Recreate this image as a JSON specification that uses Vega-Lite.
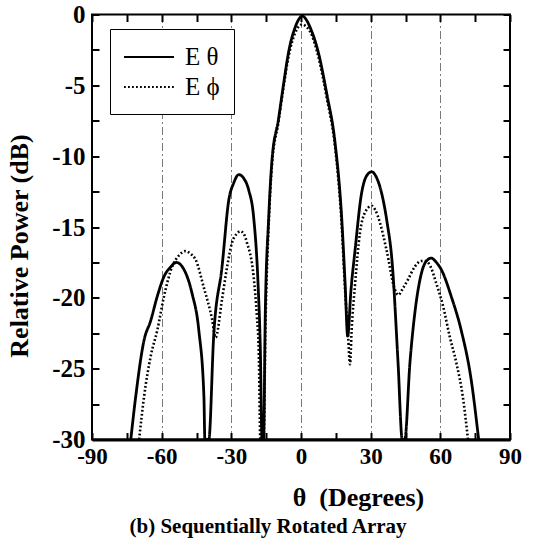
{
  "$schema": "https://vega.github.io/schema/vega-lite/v6.json",
  "width": 418,
  "height": 425,
  "autosize": "none",
  "padding": {"left": 92, "top": 14.5, "right": 26, "bottom": 99.5},
  "background": "white",
  "config": {"view": {"stroke": "black", "strokeWidth": 2}, "font": "Liberation Serif"},
  "title": {"text": "(b) Sequentially Rotated Array", "orient": "bottom", "anchor": "middle", "fontSize": 21, "fontWeight": "bold", "font": "Liberation Serif", "color": "black", "dx": -33, "offset": 5},
  "data": {"values": [
    {"a": -73.3, "p": -30, "s": "E θ"}, {"a": -71.2, "p": -27.0, "s": "E θ"}, {"a": -67.6, "p": -23.0, "s": "E θ"}, {"a": -64.7, "p": -21.6, "s": "E θ"},
    {"a": -61.9, "p": -19.9, "s": "E θ"}, {"a": -59.0, "p": -18.5, "s": "E θ"}, {"a": -56.0, "p": -17.8, "s": "E θ"}, {"a": -53.7, "p": -17.5, "s": "E θ"},
    {"a": -50.4, "p": -18.0, "s": "E θ"}, {"a": -46.9, "p": -19.7, "s": "E θ"}, {"a": -44.0, "p": -22.3, "s": "E θ"}, {"a": -41.8, "p": -27.0, "s": "E θ"},
    {"a": -41.4, "p": -30, "s": "E θ"}, {"a": -39.7, "p": -30, "s": "E θ"}, {"a": -37.6, "p": -22.7, "s": "E θ"}, {"a": -34.0, "p": -17.8, "s": "E θ"},
    {"a": -31.1, "p": -13.1, "s": "E θ"}, {"a": -29.0, "p": -11.9, "s": "E θ"}, {"a": -26.8, "p": -11.3, "s": "E θ"}, {"a": -24.5, "p": -11.6, "s": "E θ"},
    {"a": -22.5, "p": -12.4, "s": "E θ"}, {"a": -20.4, "p": -14.3, "s": "E θ"}, {"a": -18.5, "p": -19.0, "s": "E θ"}, {"a": -17.5, "p": -23.7, "s": "E θ"},
    {"a": -16.8, "p": -30, "s": "E θ"}, {"a": -16.1, "p": -30, "s": "E θ"}, {"a": -15.4, "p": -21.3, "s": "E θ"}, {"a": -13.9, "p": -14.3, "s": "E θ"},
    {"a": -12.5, "p": -10.3, "s": "E θ"}, {"a": -9.7, "p": -7.4, "s": "E θ"}, {"a": -7.5, "p": -4.9, "s": "E θ"}, {"a": -5.4, "p": -2.7, "s": "E θ"},
    {"a": -2.5, "p": -0.9, "s": "E θ"}, {"a": -1.0, "p": -0.35, "s": "E θ"}, {"a": 0.6, "p": -0.1, "s": "E θ"}, {"a": 2.2, "p": -0.35, "s": "E θ"},
    {"a": 3.9, "p": -0.9, "s": "E θ"}, {"a": 7.5, "p": -2.7, "s": "E θ"},
    {"a": 11.1, "p": -5.6, "s": "E θ"}, {"a": 14.7, "p": -9.1, "s": "E θ"}, {"a": 17.5, "p": -14.3, "s": "E θ"}, {"a": 19.0, "p": -19.0, "s": "E θ"},
    {"a": 20.1, "p": -22.7, "s": "E θ"}, {"a": 21.5, "p": -19.5, "s": "E θ"}, {"a": 23.3, "p": -16.6, "s": "E θ"}, {"a": 26.1, "p": -12.6, "s": "E θ"},
    {"a": 28.2, "p": -11.4, "s": "E θ"}, {"a": 30.4, "p": -11.1, "s": "E θ"}, {"a": 32.5, "p": -11.5, "s": "E θ"}, {"a": 34.7, "p": -12.6, "s": "E θ"},
    {"a": 37.0, "p": -14.6, "s": "E θ"}, {"a": 39.3, "p": -17.6, "s": "E θ"}, {"a": 41.8, "p": -24.6, "s": "E θ"}, {"a": 43.6, "p": -30, "s": "E θ"},
    {"a": 44.7, "p": -30, "s": "E θ"}, {"a": 46.9, "p": -24.6, "s": "E θ"}, {"a": 49.0, "p": -21.1, "s": "E θ"}, {"a": 51.8, "p": -18.3, "s": "E θ"},
    {"a": 54.0, "p": -17.4, "s": "E θ"}, {"a": 56.1, "p": -17.2, "s": "E θ"}, {"a": 58.3, "p": -17.5, "s": "E θ"}, {"a": 60.4, "p": -18.0, "s": "E θ"},
    {"a": 64.7, "p": -19.9, "s": "E θ"}, {"a": 69.0, "p": -22.3, "s": "E θ"}, {"a": 73.3, "p": -25.8, "s": "E θ"}, {"a": 76.5, "p": -30, "s": "E θ"},

    {"a": -69.7, "p": -30, "s": "E ϕ"}, {"a": -67.6, "p": -27.0, "s": "E ϕ"}, {"a": -64.7, "p": -24.1, "s": "E ϕ"}, {"a": -61.9, "p": -22.3, "s": "E ϕ"},
    {"a": -59.0, "p": -19.9, "s": "E ϕ"}, {"a": -55.5, "p": -17.8, "s": "E ϕ"}, {"a": -52.5, "p": -17.0, "s": "E ϕ"}, {"a": -49.7, "p": -16.7, "s": "E ϕ"},
    {"a": -47.5, "p": -16.9, "s": "E ϕ"}, {"a": -45.4, "p": -17.3, "s": "E ϕ"}, {"a": -41.8, "p": -19.3, "s": "E ϕ"}, {"a": -38.3, "p": -21.5, "s": "E ϕ"},
    {"a": -36.8, "p": -22.8, "s": "E ϕ"}, {"a": -34.0, "p": -20.1, "s": "E ϕ"}, {"a": -31.8, "p": -17.8, "s": "E ϕ"}, {"a": -29.7, "p": -16.1, "s": "E ϕ"},
    {"a": -27.8, "p": -15.5, "s": "E ϕ"}, {"a": -26.1, "p": -15.3, "s": "E ϕ"}, {"a": -24.6, "p": -15.5, "s": "E ϕ"}, {"a": -23.3, "p": -16.1, "s": "E ϕ"},
    {"a": -20.4, "p": -18.5, "s": "E ϕ"}, {"a": -19.0, "p": -21.3, "s": "E ϕ"}, {"a": -18.2, "p": -23.7, "s": "E ϕ"}, {"a": -17.5, "p": -30, "s": "E ϕ"},
    {"a": -16.1, "p": -30, "s": "E ϕ"}, {"a": -15.3, "p": -22.0, "s": "E ϕ"}, {"a": -13.9, "p": -14.8, "s": "E ϕ"}, {"a": -12.5, "p": -10.6, "s": "E ϕ"},
    {"a": -9.7, "p": -7.6, "s": "E ϕ"}, {"a": -7.5, "p": -5.1, "s": "E ϕ"}, {"a": -5.4, "p": -3.0, "s": "E ϕ"}, {"a": -2.5, "p": -1.3, "s": "E ϕ"},
    {"a": -1.0, "p": -0.85, "s": "E ϕ"}, {"a": 0.6, "p": -0.7, "s": "E ϕ"}, {"a": 2.2, "p": -0.85, "s": "E ϕ"},
    {"a": 3.9, "p": -1.2, "s": "E ϕ"}, {"a": 7.5, "p": -3.0, "s": "E ϕ"}, {"a": 11.1, "p": -5.9, "s": "E ϕ"},
    {"a": 14.7, "p": -9.4, "s": "E ϕ"}, {"a": 17.5, "p": -14.8, "s": "E ϕ"}, {"a": 19.0, "p": -19.5, "s": "E ϕ"}, {"a": 20.3, "p": -22.8, "s": "E ϕ"},
    {"a": 21.1, "p": -24.7, "s": "E ϕ"}, {"a": 21.8, "p": -22.3, "s": "E ϕ"}, {"a": 23.3, "p": -19.0, "s": "E ϕ"}, {"a": 25.4, "p": -15.4, "s": "E ϕ"},
    {"a": 27.5, "p": -14.0, "s": "E ϕ"}, {"a": 30.4, "p": -13.5, "s": "E ϕ"}, {"a": 32.0, "p": -13.8, "s": "E ϕ"}, {"a": 34.0, "p": -14.7, "s": "E ϕ"},
    {"a": 36.8, "p": -16.6, "s": "E ϕ"}, {"a": 40.4, "p": -19.4, "s": "E ϕ"}, {"a": 41.8, "p": -19.8, "s": "E ϕ"}, {"a": 44.0, "p": -19.3, "s": "E ϕ"},
    {"a": 46.1, "p": -18.7, "s": "E ϕ"}, {"a": 49.0, "p": -17.8, "s": "E ϕ"}, {"a": 51.8, "p": -17.4, "s": "E ϕ"}, {"a": 53.5, "p": -17.4, "s": "E ϕ"},
    {"a": 55.5, "p": -17.7, "s": "E ϕ"}, {"a": 58.3, "p": -19.0, "s": "E ϕ"}, {"a": 61.2, "p": -20.6, "s": "E ϕ"}, {"a": 64.0, "p": -22.7, "s": "E ϕ"},
    {"a": 66.9, "p": -24.6, "s": "E ϕ"}, {"a": 69.7, "p": -27.0, "s": "E ϕ"}, {"a": 71.9, "p": -30, "s": "E ϕ"}
  ]},
  "resolve": {"axis": {"x": "independent", "y": "independent"}},
  "layer": [
    {
      "transform": [{"filter": "datum.s === 'E θ'"}],
      "mark": {"type": "line", "color": "black", "strokeWidth": 2.8, "clip": true, "interpolate": "monotone"},
      "encoding": {
        "x": {"field": "a", "type": "quantitative", "scale": {"domain": [-90, 90], "nice": false},
          "axis": {"orient": "bottom", "values": [-90, -75, -60, -45, -30, -15, 0, 15, 30, 45, 60, 75, 90],
            "labelExpr": "datum.value % 30 === 0 ? '' + datum.value : ''",
            "labelFont": "Liberation Serif", "labelFontWeight": "bold", "labelFontSize": 23, "labelColor": "black",
            "labelPadding": 13, "labelFlush": false, "labelOverlap": false,
            "tickSize": -7, "tickColor": "black", "tickWidth": 2,
            "domain": true, "domainColor": "black", "domainWidth": 3,
            "grid": true, "gridColor": "#444", "gridWidth": 0.8, "gridDash": [8, 3, 2, 3],
            "gridOpacity": {"condition": {"test": "datum.value % 30 === 0 && abs(datum.value) < 90", "value": 0.9}, "value": 0},
            "title": "θ\u00a0\u00a0(Degrees)", "titleFont": "Liberation Serif", "titleFontWeight": "bold", "titleFontSize": 26, "titleColor": "black",
            "titleX": 266, "titleY": 58, "titleBaseline": "middle", "titleAlign": "center"}},
        "y": {"field": "p", "type": "quantitative", "scale": {"domain": [-30, 0], "nice": false},
          "axis": {"orient": "left", "values": [-30, -27.5, -25, -22.5, -20, -17.5, -15, -12.5, -10, -7.5, -5, -2.5, 0],
            "labelExpr": "datum.value % 5 === 0 ? '' + datum.value : ''",
            "labelFont": "Liberation Serif", "labelFontWeight": "bold", "labelFontSize": 25, "labelColor": "black",
            "labelPadding": 14, "labelFlush": false, "labelOverlap": false,
            "tickSize": -7, "tickColor": "black", "tickWidth": 2, "domain": false, "grid": false,
            "title": "Relative Power (dB)", "titleFont": "Liberation Serif", "titleFontWeight": "bold", "titleFontSize": 26, "titleColor": "black",
            "titleX": -73, "titleY": 231, "titleBaseline": "middle", "titleAlign": "center", "titleAngle": -90}},
        "strokeDash": {"field": "s", "type": "nominal",
          "scale": {"domain": ["E θ", "E ϕ"], "range": [[1, 0], [1.8, 2.2]]},
          "legend": {"orient": "none", "legendX": 18, "legendY": 14.5, "title": null,
            "strokeColor": "black", "fillColor": "white", "padding": 14,
            "symbolType": "M-2,0H2", "symbolSize": 625, "symbolOffset": 11, "symbolStrokeWidth": 2.2, "symbolStrokeColor": "black",
            "labelFont": "Liberation Serif", "labelFontSize": 25, "labelColor": "black", "labelOffset": 22, "labelLimit": 300,
            "rowPadding": 3, "labelExpr": "datum.label + '\u00a0\u00a0\u00a0'"}}
      }
    },
    {
      "transform": [{"filter": "datum.s === 'E ϕ'"}],
      "mark": {"type": "line", "color": "black", "strokeWidth": 2.6, "clip": true, "interpolate": "monotone"},
      "encoding": {
        "x": {"field": "a", "type": "quantitative",
          "axis": {"orient": "top", "values": [-90, -75, -60, -45, -30, -15, 0, 15, 30, 45, 60, 75, 90],
            "labels": false, "tickSize": -7, "tickColor": "black", "tickWidth": 2, "domain": false, "grid": false, "title": null}},
        "y": {"field": "p", "type": "quantitative",
          "axis": {"orient": "right", "values": [-30, -27.5, -25, -22.5, -20, -17.5, -15, -12.5, -10, -7.5, -5, -2.5, 0],
            "labels": false, "tickSize": -7, "tickColor": "black", "tickWidth": 2, "domain": false, "grid": false, "title": null}},
        "strokeDash": {"field": "s", "type": "nominal"}
      }
    }
  ]
}
